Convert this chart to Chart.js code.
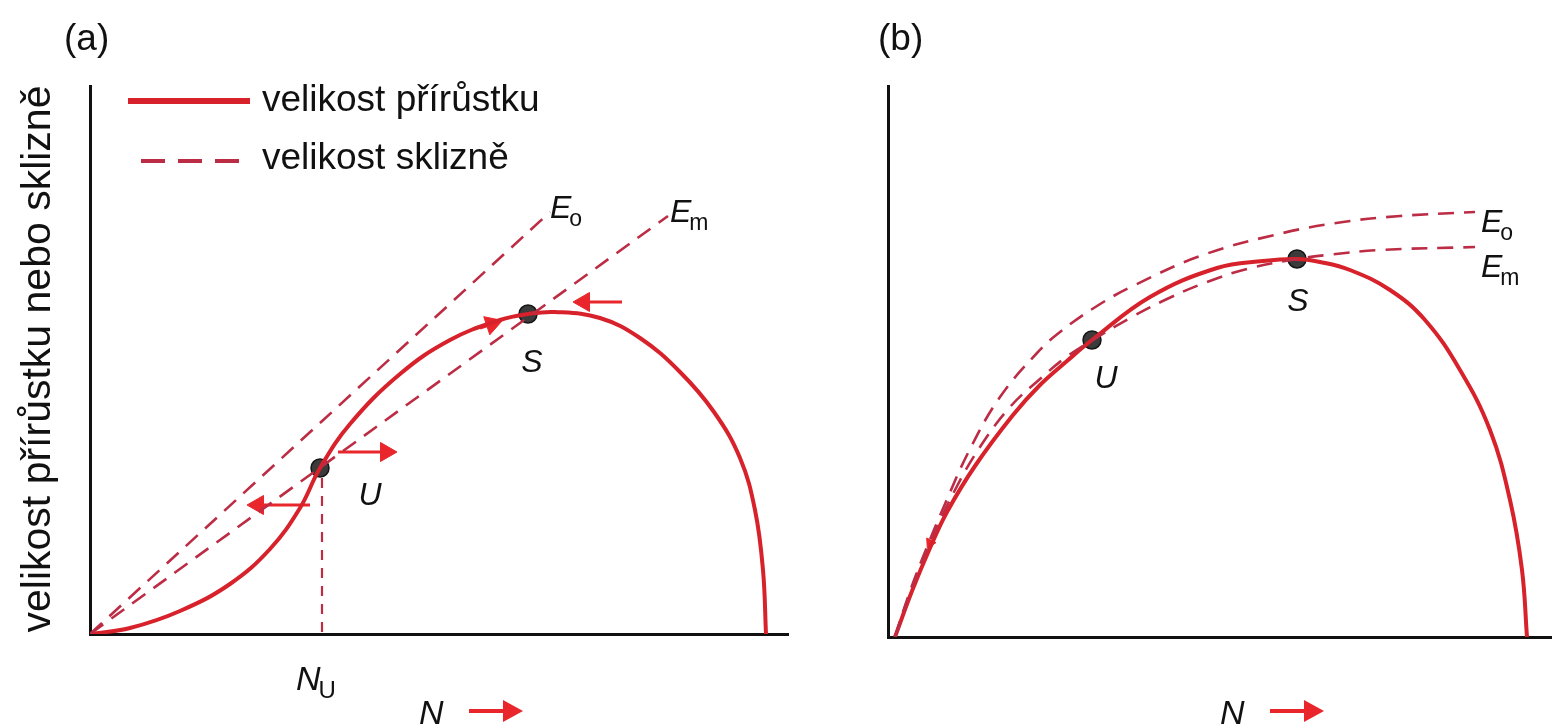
<!DOCTYPE html>
<html><head><meta charset="utf-8">
<script src="https://cdn.jsdelivr.net/npm/chart.js@4.4.0/dist/chart.umd.min.js"></script>
<style>
html,body{margin:0;padding:0;background:#fff;width:1552px;height:727px;overflow:hidden;position:relative}
canvas{position:absolute;top:0}
#ca{left:0}
#cb{left:800px}
</style></head><body>
<canvas id="ca" width="800" height="727"></canvas>
<canvas id="cb" width="764" height="727"></canvas>
<script>
// ---------- Panel (a) values (N = population size, Y = amount) ----------
const growthA_N = [0,40,90,140,180,210,230,260,310,360,410,438,465,510,550,590,624,650,665,673,676];
const growthA_Y = [0,6,23,50,85,126,166,210,260,294,314,320,322,316,296,262,222,176,124,64,0];
const harvestA_Eo_N = [0,460];
const harvestA_Eo_Y = [0,422];
const harvestA_Em_N = [0,578];
const harvestA_Em_Y = [0,418];
const eqA_names = ['U','S'];
const eqA_N = [230,438];
const eqA_Y = [166,320];
const NU_A = 232;
// arrows: from (N,Y) to head (N,Y)
const arrowsA_fromN = [248,220,532,390];
const arrowsA_fromY = [182,129,332,306];
const arrowsA_toN   = [296,168,494,402];
const arrowsA_toY   = [182,129,332,310];

// ---------- Panel (b) values ----------
const growthB_N = [7,24,42,59,87,125,152,179,204,262,329,375,409,432,462,502,537,572,602,622,634,639];
const growthB_Y = [0,46,89,125,171,222,252,276,297,340,369,376,378,375,367,347,317,267,207,137,67,0];
const harvestB_Eo_N = [7,20,35,57,82,112,149,172,209,245,315,395,455,512,587];
const harvestB_Eo_Y = [0,40,80,133,188,240,284,305,331,351,382,404,415,421,425];
const harvestB_Em_N = [7,22,42,67,92,122,152,177,205,242,279,319,359,409,439,492,587];
const harvestB_Em_Y = [0,44,94,147,190,230,258,279,297,319,338,355,368,378,382,387,390];
const eqB_names = ['U','S'];
const eqB_N = [204,409];
const eqB_Y = [297,378];
const arrowsB_fromN = [50];
const arrowsB_fromY = [110];
const arrowsB_toN   = [42];
const arrowsB_toY   = [94];

// ---------- text ----------
const yTitle = 'velikost přírůstku nebo sklizně';
const legendTexts = ['velikost přírůstku','velikost sklizně'];
const xName = 'N';

const RED = '#d7222b';
const DASH = '#bc2c44';
const ARROW = '#e8262b';
const FONT = '"Liberation Sans", Arial, Helvetica, sans-serif';

const zip = (xs, ys) => xs.map((x, i) => ({x, y: ys[i]}));

function arrowSets(fN, fY, tN, tY) {
  return fN.map((_, i) => ({
    data: [{x: fN[i], y: fY[i]}, {x: tN[i], y: tY[i]}],
    showLine: true,
    borderColor: ARROW,
    borderWidth: 3,
    pointRadius: [0, 11],
    pointHoverRadius: [0, 11],
    pointStyle: 'triangle',
    pointBackgroundColor: ARROW,
    pointBorderColor: ARROW,
    pointBorderWidth: 1,
    rotation: (c) => {
      const d = c.dataset.data, xs = c.chart.scales.x, ys = c.chart.scales.y;
      const dx = xs.getPixelForValue(d[1].x) - xs.getPixelForValue(d[0].x);
      const dy = ys.getPixelForValue(d[1].y) - ys.getPixelForValue(d[0].y);
      return Math.atan2(dx, -dy) * 180 / Math.PI;
    }
  }));
}

function curveSet(xs, ys, color, width, dash) {
  return {
    data: zip(xs, ys), showLine: true, borderColor: color, borderWidth: width,
    borderDash: dash || [], pointRadius: 0, pointHoverRadius: 0,
    tension: 0.4, fill: false
  };
}

function eqSet(xs, ys) {
  return {
    data: zip(xs, ys), showLine: false, pointRadius: 9, pointHoverRadius: 9,
    pointBackgroundColor: '#3b3b3b', pointBorderColor: '#151515', pointBorderWidth: 1.5
  };
}

function scalesCfg(xmax, ymax) {
  const ax = (max) => ({
    type: 'linear', min: 0, max: max, display: true,
    ticks: {display: false},
    grid: {display: false, drawTicks: false},
    border: {display: true, color: '#111', width: 3}
  });
  return {x: ax(xmax), y: ax(ymax)};
}

function drawSub(ctx, x, base, main, sub, size) {
  ctx.font = 'italic ' + size + 'px ' + FONT;
  ctx.textAlign = 'left'; ctx.textBaseline = 'alphabetic';
  ctx.fillText(main, x, base);
  const w = ctx.measureText(main).width;
  if (sub) {
    ctx.font = Math.round(size * 0.72) + 'px ' + FONT;
    ctx.fillText(sub, x + w - 2, base + 8);
  }
}

function drawNArrow(ctx, x, base) {
  ctx.fillStyle = '#111';
  drawSub(ctx, x, base, xName, '', 34);
  const y = base - 13;
  ctx.strokeStyle = ARROW; ctx.lineWidth = 4;
  ctx.beginPath(); ctx.moveTo(x + 50, y); ctx.lineTo(x + 88, y); ctx.stroke();
  ctx.fillStyle = ARROW;
  ctx.beginPath(); ctx.moveTo(x + 104, y); ctx.lineTo(x + 84, y - 11); ctx.lineTo(x + 84, y + 11); ctx.closePath(); ctx.fill();
}

const decorA = {
  id: 'decorA',
  afterDraw(chart) {
    const ctx = chart.ctx, xs = chart.scales.x, ys = chart.scales.y;
    ctx.save();
    // vertical dashed N_U
    ctx.strokeStyle = DASH; ctx.lineWidth = 2.2; ctx.setLineDash([10, 8]);
    ctx.beginPath();
    ctx.moveTo(xs.getPixelForValue(NU_A), ys.getPixelForValue(eqA_Y[0]) + 10);
    ctx.lineTo(xs.getPixelForValue(NU_A), ys.getPixelForValue(0));
    ctx.stroke();
    ctx.setLineDash([]);
    // panel letter
    ctx.fillStyle = '#111';
    ctx.font = '37px ' + FONT; ctx.textAlign = 'left'; ctx.textBaseline = 'alphabetic';
    ctx.fillText('(a)', 64, 50);
    // y title
    ctx.save();
    ctx.translate(50, 359); ctx.rotate(-Math.PI / 2);
    ctx.font = '41px ' + FONT; ctx.textAlign = 'center'; ctx.textBaseline = 'alphabetic';
    ctx.fillText(yTitle, 0, 0);
    ctx.restore();
    // legend
    ctx.strokeStyle = RED; ctx.lineWidth = 6;
    ctx.beginPath(); ctx.moveTo(128, 101); ctx.lineTo(250, 101); ctx.stroke();
    ctx.strokeStyle = DASH; ctx.lineWidth = 4; ctx.setLineDash([24, 13]);
    ctx.beginPath(); ctx.moveTo(141, 161); ctx.lineTo(247, 161); ctx.stroke();
    ctx.setLineDash([]);
    ctx.fillStyle = '#111';
    ctx.font = '37px ' + FONT; ctx.textBaseline = 'middle'; ctx.textAlign = 'left';
    ctx.fillText(legendTexts[0], 262, 101);
    ctx.fillText(legendTexts[1], 262, 159);
    // line end labels
    drawSub(ctx, xs.getPixelForValue(harvestA_Eo_N[1]) + 0, ys.getPixelForValue(harvestA_Eo_Y[1]) + 6, 'E', 'o', 32);
    drawSub(ctx, xs.getPixelForValue(harvestA_Em_N[1]) + 2, ys.getPixelForValue(harvestA_Em_Y[1]) + 6, 'E', 'm', 32);
    // equilibrium labels
    ctx.font = 'italic 32px ' + FONT; ctx.textAlign = 'center'; ctx.textBaseline = 'alphabetic';
    ctx.fillText(eqA_names[1], xs.getPixelForValue(eqA_N[1]) + 4, ys.getPixelForValue(eqA_Y[1]) + 58);
    ctx.fillText(eqA_names[0], xs.getPixelForValue(eqA_N[0]) + 50, ys.getPixelForValue(eqA_Y[0]) + 37);
    // N_U
    drawSub(ctx, xs.getPixelForValue(NU_A) - 26, ys.getPixelForValue(0) + 56, 'N', 'U', 34);
    drawNArrow(ctx, 419, 724);
    ctx.restore();
  }
};

const decorB = {
  id: 'decorB',
  afterDraw(chart) {
    const ctx = chart.ctx, xs = chart.scales.x, ys = chart.scales.y;
    ctx.save();
    ctx.fillStyle = '#111';
    ctx.font = '37px ' + FONT; ctx.textAlign = 'left'; ctx.textBaseline = 'alphabetic';
    ctx.fillText('(b)', 78, 50);
    const eoL = harvestB_Eo_N.length - 1, emL = harvestB_Em_N.length - 1;
    drawSub(ctx, xs.getPixelForValue(harvestB_Eo_N[eoL]) + 6, ys.getPixelForValue(harvestB_Eo_Y[eoL]) + 20, 'E', 'o', 32);
    drawSub(ctx, xs.getPixelForValue(harvestB_Em_N[emL]) + 6, ys.getPixelForValue(harvestB_Em_Y[emL]) + 30, 'E', 'm', 32);
    ctx.font = 'italic 32px ' + FONT; ctx.textAlign = 'center'; ctx.textBaseline = 'alphabetic';
    ctx.fillText(eqB_names[1], xs.getPixelForValue(eqB_N[1]) + 1, ys.getPixelForValue(eqB_Y[1]) + 52);
    ctx.fillText(eqB_names[0], xs.getPixelForValue(eqB_N[0]) + 14, ys.getPixelForValue(eqB_Y[0]) + 48);
    drawNArrow(ctx, 420, 724);
    ctx.restore();
  }
};

const baseOpts = (pad, xmax, ymax) => ({
  responsive: false, animation: false, devicePixelRatio: 1,
  layout: {padding: pad},
  plugins: {legend: {display: false}, tooltip: {enabled: false}},
  scales: scalesCfg(xmax, ymax),
  events: []
});

new Chart(document.getElementById('ca'), {
  type: 'scatter',
  data: {datasets: [
    curveSet(harvestA_Eo_N, harvestA_Eo_Y, DASH, 2.6, [16, 10]),
    curveSet(harvestA_Em_N, harvestA_Em_Y, DASH, 2.6, [16, 10]),
    curveSet(growthA_N, growthA_Y, RED, 4),
    ...arrowSets(arrowsA_fromN, arrowsA_fromY, arrowsA_toN, arrowsA_toY),
    eqSet(eqA_N, eqA_Y)
  ]},
  options: baseOpts({left: 90, top: 86, right: 12, bottom: 93}, 698, 548),
  plugins: [decorA]
});

new Chart(document.getElementById('cb'), {
  type: 'scatter',
  data: {datasets: [
    curveSet(harvestB_Eo_N, harvestB_Eo_Y, DASH, 2.6, [16, 10]),
    curveSet(harvestB_Em_N, harvestB_Em_Y, DASH, 2.6, [16, 10]),
    curveSet(growthB_N, growthB_Y, RED, 4),
    ...arrowSets(arrowsB_fromN, arrowsB_fromY, arrowsB_toN, arrowsB_toY).map(d => Object.assign(d, {borderWidth: 0, showLine: false, pointRadius: [0, 6]})),
    eqSet(eqB_N, eqB_Y)
  ]},
  options: baseOpts({left: 88, top: 86, right: 0, bottom: 90}, 664, 551),
  plugins: [decorB]
});
</script>
</body></html>
